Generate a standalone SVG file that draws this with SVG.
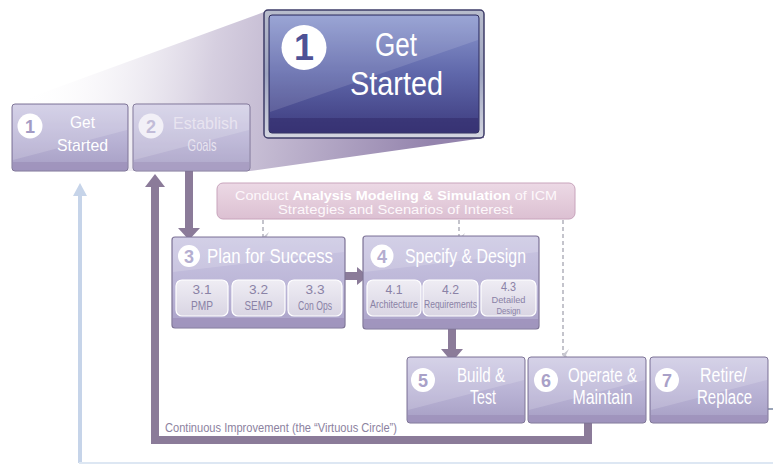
<svg xmlns="http://www.w3.org/2000/svg" width="773" height="467" viewBox="0 0 773 467">
<style>
.box{fill:url(#gBox);stroke:#7f7597;stroke-width:1}
.bigbox{fill:url(#gBig);stroke:#7f7597;stroke-width:1.2}
.band{fill:#9d91ba;opacity:.8}
.gloss{fill:#fff;opacity:.16}
.t{font-family:"Liberation Sans",Arial,sans-serif;fill:#fff;text-anchor:middle}
.num{font-family:"Liberation Sans",Arial,sans-serif;font-weight:bold;text-anchor:middle}
.circ{fill:#fff}
.sub{fill:url(#gSub);stroke:#fff;stroke-width:1.2}
.subt{font-family:"Liberation Sans",Arial,sans-serif;fill:#8a82a6;text-anchor:middle}
.flow{stroke:#8b7b99;stroke-width:8;fill:none}
.head{fill:#8b7b99}
.dash{stroke:#c4c4cc;stroke-width:2;stroke-dasharray:4 3;fill:none;marker-end:url(#mDash)}
.faint{fill:#e8e4f0}
</style>
<defs>
<linearGradient id="gBox" x1="0" y1="0" x2="0" y2="1">
<stop offset="0" stop-color="#cecae4"/><stop offset="0.55" stop-color="#b8b2d4"/><stop offset="1" stop-color="#a69ec4"/>
</linearGradient>
<linearGradient id="gBig" x1="0" y1="0" x2="0" y2="1">
<stop offset="0" stop-color="#cbc7e3"/><stop offset="0.6" stop-color="#bab4d6"/><stop offset="1" stop-color="#aaa2c8"/>
</linearGradient>
<linearGradient id="gSub" x1="0" y1="0" x2="0" y2="1">
<stop offset="0" stop-color="#efedf4"/><stop offset="1" stop-color="#d9d5e3"/>
</linearGradient>
<linearGradient id="gBanner" x1="0" y1="0" x2="0" y2="1">
<stop offset="0" stop-color="#ecd9e5"/><stop offset="1" stop-color="#dcc0d2"/>
</linearGradient>
<linearGradient id="gFunnel" gradientUnits="userSpaceOnUse" x1="20" y1="90" x2="430" y2="150">
<stop offset="0" stop-color="#ffffff" stop-opacity="0"/><stop offset="0.45" stop-color="#d6cfe0"/><stop offset="1" stop-color="#9484ad"/>
</linearGradient>
<linearGradient id="gBlue" x1="0" y1="0" x2="0" y2="1">
<stop offset="0" stop-color="#8d99cf"/><stop offset="0.5" stop-color="#5f67aa"/><stop offset="1" stop-color="#3d3b7e"/>
</linearGradient>
<linearGradient id="gFrame" x1="0" y1="0" x2="0" y2="1">
<stop offset="0" stop-color="#b8bccc"/><stop offset="0.5" stop-color="#9ea4c0"/><stop offset="1" stop-color="#d4d6e0"/>
</linearGradient>
<marker id="mDash" markerWidth="12" markerHeight="10" refX="6" refY="8" orient="auto-start-reverse" markerUnits="userSpaceOnUse" viewBox="0 0 12 10">
<path d="M0,2 L6,5 L12,2 L6,9 z" fill="#c8c8d0"/>
</marker>
</defs>
<rect width="773" height="467" fill="#ffffff"/>

<g id="funnel">
<polygon points="12,104 264,12 484,12 484,138 250,171 12,171" fill="url(#gFunnel)"/>
</g>

<g id="connectors">
<path d="M80,463 L80,194" stroke="#c6d4e9" stroke-width="4" fill="none"/>
<polygon points="73,196 80,183 87,196" fill="#c6d4e9"/>
<path d="M79,463 L773,463" stroke="#dde7f3" stroke-width="2" fill="none"/>
<path class="flow" d="M189,171 L189,229"/>
<polygon class="head" points="178,228 200,228 189,240"/>
<path class="flow" d="M345,276 L358,276"/>
<polygon class="head" points="357,267 357,285 368,276"/>
<path class="flow" d="M452,316 L452,350"/>
<polygon class="head" points="441,349 463,349 452,362"/>
<path class="flow" d="M588,423 L588,440 L155,440 L155,185"/>
<polygon class="head" points="145,187 165,187 155,174"/>
<path class="dash" d="M263,220 L263,238"/>
<path class="dash" d="M459,220 L459,239"/>
<path class="dash" d="M563,220 L563,355"/>
<path d="M768,409 L773,409" stroke="#9aa4b8" stroke-width="2"/>
<text x="165" y="432" font-family="Liberation Sans, Arial, sans-serif" font-size="13.5" fill="#8c82a0" textLength="232" lengthAdjust="spacingAndGlyphs">Continuous Improvement (the “Virtuous Circle”)</text>
</g>

<g id="node1">
<rect class="box" x="12" y="104" width="116" height="67" rx="3"/>
<polygon class="gloss" points="13,105 127,105 127,130 13,160"/>
<rect class="band" x="13" y="162" width="114" height="8"/>
<circle class="circ" cx="30" cy="126" r="12.5"/>
<text class="num" x="30" y="132.5" font-size="18" fill="#a39bc4">1</text>
<text class="t" x="82.5" y="128" font-size="17" textLength="25" lengthAdjust="spacingAndGlyphs">Get</text>
<text class="t" x="82.5" y="151" font-size="17" textLength="51" lengthAdjust="spacingAndGlyphs">Started</text>
</g>

<g id="node2">
<rect class="box" x="133" y="104" width="117" height="67" rx="3"/>
<polygon class="gloss" points="134,105 249,105 249,130 134,160"/>
<rect class="band" x="134" y="162" width="115" height="8"/>
<rect x="133" y="104" width="117" height="67" rx="3" fill="#fff" opacity="0.1"/>
<circle cx="151" cy="126" r="12.5" fill="#f2f0f7"/>
<text class="num" x="151" y="132.5" font-size="18" fill="#c2bcd8">2</text>
<text class="t faint" x="205.5" y="129" font-size="17" textLength="65" lengthAdjust="spacingAndGlyphs">Establish</text>
<text class="t faint" x="202" y="151" font-size="17" textLength="29" lengthAdjust="spacingAndGlyphs">Goals</text>
</g>

<g id="node1big">
<rect x="264" y="10" width="220" height="128" rx="4" fill="url(#gFrame)" stroke="#3e3c68" stroke-width="1.5"/>
<rect x="269" y="15" width="210" height="118" rx="3" fill="url(#gBlue)" stroke="#2f2d5e" stroke-width="1"/>
<polygon points="270,16 478,16 478,40 270,112" fill="#fff" opacity="0.12"/>
<rect x="270" y="118" width="208" height="14" fill="#332d6c" opacity="0.6"/>
<circle class="circ" cx="304" cy="47.5" r="22.5"/>
<text class="num" x="304" y="60" font-size="36" fill="#4e5296">1</text>
<text class="t" x="396" y="56" font-size="33" textLength="42" lengthAdjust="spacingAndGlyphs">Get</text>
<text class="t" x="396.5" y="95" font-size="33" textLength="93" lengthAdjust="spacingAndGlyphs">Started</text>
</g>

<g id="banner">
<rect x="217" y="183" width="358" height="36" rx="6" fill="url(#gBanner)" stroke="#c8a4bc" stroke-width="1"/>
<text x="396" y="199.5" font-family="Liberation Sans, Arial, sans-serif" font-size="12" fill="#fdf8fb" text-anchor="middle" textLength="322" lengthAdjust="spacingAndGlyphs">Conduct <tspan font-weight="bold" fill="#ffffff">Analysis Modeling &amp; Simulation</tspan> of ICM</text>
<text x="395.5" y="213.5" font-family="Liberation Sans, Arial, sans-serif" font-size="12" fill="#fdf8fb" text-anchor="middle" textLength="235" lengthAdjust="spacingAndGlyphs">Strategies and Scenarios of Interest</text>
</g>

<g id="node3">
<rect class="bigbox" x="172" y="237" width="173" height="91" rx="3"/>
<polygon class="gloss" points="173,238 344,238 344,252 173,272"/>
<rect class="band" x="173" y="318" width="171" height="9"/>
<circle class="circ" cx="189" cy="256" r="11"/>
<text class="num" x="189" y="262.5" font-size="18" fill="#b4aed0">3</text>
<text class="t" x="270" y="263" font-size="21" textLength="126" lengthAdjust="spacingAndGlyphs">Plan for Success</text>
<g id="node3-1"><rect class="sub" x="176" y="280" width="52" height="36" rx="6"/>
<text class="subt" x="202" y="294" font-size="13" textLength="19" lengthAdjust="spacingAndGlyphs">3.1</text>
<text class="subt" x="202" y="309.5" font-size="13" textLength="22" lengthAdjust="spacingAndGlyphs">PMP</text></g>
<g id="node3-2"><rect class="sub" x="232" y="280" width="53" height="36" rx="6"/>
<text class="subt" x="258.5" y="294" font-size="13" textLength="19" lengthAdjust="spacingAndGlyphs">3.2</text>
<text class="subt" x="258.5" y="309.5" font-size="13" textLength="28" lengthAdjust="spacingAndGlyphs">SEMP</text></g>
<g id="node3-3"><rect class="sub" x="288" y="280" width="54" height="36" rx="6"/>
<text class="subt" x="315" y="294" font-size="13" textLength="19" lengthAdjust="spacingAndGlyphs">3.3</text>
<text class="subt" x="315" y="309.5" font-size="13" textLength="34" lengthAdjust="spacingAndGlyphs">Con Ops</text></g>
</g>

<g id="node4">
<rect class="bigbox" x="363" y="236" width="176" height="93" rx="3"/>
<polygon class="gloss" points="364,237 538,237 538,252 364,272"/>
<rect class="band" x="364" y="319" width="174" height="9"/>
<circle class="circ" cx="382" cy="256" r="11.5"/>
<text class="num" x="382" y="262.5" font-size="18" fill="#b4aed0">4</text>
<text class="t" x="465.5" y="263" font-size="21" textLength="121" lengthAdjust="spacingAndGlyphs">Specify &amp; Design</text>
<g id="node4-1"><rect class="sub" x="367" y="280" width="54" height="36" rx="6"/>
<text class="subt" x="394" y="294" font-size="13" textLength="17" lengthAdjust="spacingAndGlyphs">4.1</text>
<text class="subt" x="394" y="307.5" font-size="11" textLength="48" lengthAdjust="spacingAndGlyphs">Architecture</text></g>
<g id="node4-2"><rect class="sub" x="423" y="280" width="55" height="36" rx="6"/>
<text class="subt" x="450.5" y="294" font-size="13" textLength="17" lengthAdjust="spacingAndGlyphs">4.2</text>
<text class="subt" x="450.5" y="307.5" font-size="11" textLength="53" lengthAdjust="spacingAndGlyphs">Requirements</text></g>
<g id="node4-3"><rect class="sub" x="481" y="280" width="55" height="36" rx="6"/>
<text class="subt" x="508.5" y="291" font-size="12" textLength="15" lengthAdjust="spacingAndGlyphs">4.3</text>
<text class="subt" x="508.5" y="302.5" font-size="9.5" textLength="34" lengthAdjust="spacingAndGlyphs">Detailed</text>
<text class="subt" x="508.5" y="313.5" font-size="9.5" textLength="24" lengthAdjust="spacingAndGlyphs">Design</text></g>
</g>

<g id="node5">
<rect class="box" x="407" y="357" width="118" height="66" rx="3"/>
<polygon class="gloss" points="408,358 524,358 524,380 408,410"/>
<rect class="band" x="408" y="415" width="116" height="7"/>
<circle class="circ" cx="423" cy="380" r="12"/>
<text class="num" x="423" y="386.5" font-size="18" fill="#a9a1c8">5</text>
<text class="t" x="481" y="382" font-size="20" textLength="48" lengthAdjust="spacingAndGlyphs">Build &amp;</text>
<text class="t" x="483" y="404" font-size="20" textLength="26" lengthAdjust="spacingAndGlyphs">Test</text>
</g>

<g id="node6">
<rect class="box" x="528" y="357" width="118" height="66" rx="3"/>
<polygon class="gloss" points="529,358 645,358 645,380 529,410"/>
<rect class="band" x="529" y="415" width="116" height="7"/>
<circle class="circ" cx="546" cy="380" r="12"/>
<text class="num" x="546" y="386.5" font-size="18" fill="#a9a1c8">6</text>
<text class="t" x="602.5" y="382" font-size="20" textLength="69" lengthAdjust="spacingAndGlyphs">Operate &amp;</text>
<text class="t" x="602.5" y="404" font-size="20" textLength="60" lengthAdjust="spacingAndGlyphs">Maintain</text>
</g>

<g id="node7">
<rect class="box" x="650" y="357" width="118" height="66" rx="3"/>
<polygon class="gloss" points="651,358 767,358 767,380 651,410"/>
<rect class="band" x="651" y="415" width="116" height="7"/>
<circle class="circ" cx="667" cy="380" r="12"/>
<text class="num" x="667" y="386.5" font-size="18" fill="#a9a1c8">7</text>
<text class="t" x="723.5" y="382" font-size="20" textLength="47" lengthAdjust="spacingAndGlyphs">Retire/</text>
<text class="t" x="724.5" y="404" font-size="20" textLength="55" lengthAdjust="spacingAndGlyphs">Replace</text>
</g>
</svg>
